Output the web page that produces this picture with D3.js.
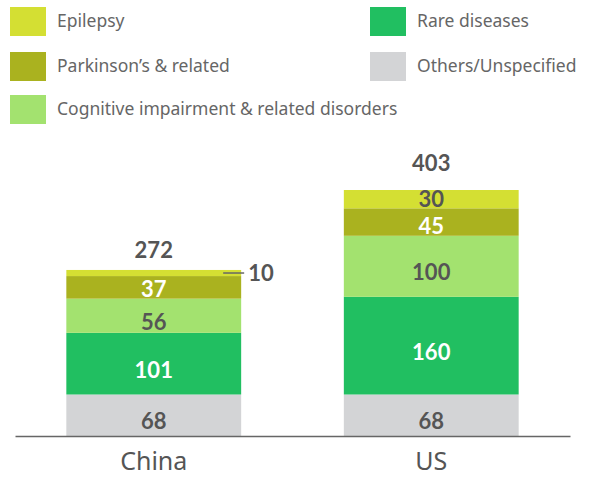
<!DOCTYPE html>
<html>
<head>
<meta charset="utf-8">
<script src="https://cdn.jsdelivr.net/npm/d3@7/dist/d3.min.js"></script>
<style>
  body { margin: 0; background: #fff; }
  svg { display: block; }
</style>
</head>
<body>
<svg id="chart" width="593" height="479"></svg>
<script>
// Categories (bars) and stacked series, bottom to top
const countries = ["China", "US"];
const seriesNames = ["Others/Unspecified", "Rare diseases", "Cognitive impairment & related disorders", "Parkinson’s & related", "Epilepsy"];
const othersValues = [68, 68];
const rareValues = [101, 160];
const cognitiveValues = [56, 100];
const parkinsonsValues = [37, 45];
const epilepsyValues = [10, 30];
const totals = [272, 403];

const colors = {
  "Others/Unspecified": "#d3d4d6",
  "Rare diseases": "#21bf61",
  "Cognitive impairment & related disorders": "#a3e26f",
  "Parkinson’s & related": "#aab21f",
  "Epilepsy": "#d4df33"
};
const labelColors = {
  "Others/Unspecified": "#555",
  "Rare diseases": "#fff",
  "Cognitive impairment & related disorders": "#555",
  "Parkinson’s & related": "#fff",
  "Epilepsy": "#555"
};

const valuesBySeries = [othersValues, rareValues, cognitiveValues, parkinsonsValues, epilepsyValues];
const rows = countries.map((c, i) => {
  const r = { country: c };
  seriesNames.forEach((s, j) => r[s] = valuesBySeries[j][i]);
  return r;
});

const svg = d3.select("#chart");
const numFont = "Lato, 'Noto Sans', sans-serif";
const textFont = "'Noto Sans', 'Open Sans', sans-serif";

const baseY = 436;
const x = d3.scaleBand().domain(countries).range([15, 570]).paddingInner(0.37).paddingOuter(0.185);
const y = d3.scaleLinear().domain([0, 403]).range([baseY, 190]);

const stack = d3.stack().keys(seriesNames);
const layers = stack(rows);

const g = svg.append("g");
layers.forEach(layer => {
  const key = layer.key;
  layer.forEach((d, i) => {
    g.append("rect")
      .attr("x", x(countries[i]))
      .attr("y", y(d[1]))
      .attr("width", x.bandwidth())
      .attr("height", y(d[0]) - y(d[1]))
      .attr("fill", colors[key]);
  });
});

// Segment value labels, nudged slightly below the middle in taller segments
layers.forEach(layer => {
  const key = layer.key;
  layer.forEach((d, i) => {
    const v = d[1] - d[0];
    const cx = x(countries[i]) + x.bandwidth() / 2;
    const top = y(d[1]), bottom = y(d[0]);
    const h = bottom - top;
    if (key === "Epilepsy" && countries[i] === "China") {
      const yy = (top + bottom) / 2;
      const right = x(countries[i]) + x.bandwidth();
      svg.append("line")
        .attr("x1", right - 18).attr("x2", right + 3)
        .attr("y1", yy).attr("y2", yy)
        .attr("stroke", "#666").attr("stroke-width", 1.5);
      svg.append("text")
        .attr("x", right + 7).attr("y", yy)
        .attr("dy", "0.36em")
        .attr("font-family", numFont).attr("font-weight", 700)
        .attr("font-size", 22).attr("fill", "#555")
        .text(v);
      return;
    }
    const nudge = Math.max(0, Math.min(6, (h - 20) / 2));
    svg.append("text")
      .attr("x", cx).attr("y", (top + bottom) / 2 + nudge)
      .attr("dy", "0.36em")
      .attr("text-anchor", "middle")
      .attr("font-family", numFont).attr("font-weight", 700)
      .attr("font-size", 22).attr("fill", labelColors[key])
      .text(v);
  });
});

// Totals
const totalGap = [20, 27];
countries.forEach((c, i) => {
  svg.append("text")
    .attr("x", x(c) + x.bandwidth() / 2)
    .attr("y", y(totals[i]) - totalGap[i])
    .attr("dy", "0.36em")
    .attr("text-anchor", "middle")
    .attr("font-family", numFont).attr("font-weight", 700)
    .attr("font-size", 22).attr("fill", "#555")
    .text(totals[i]);
});

// Baseline axis
const axis = svg.append("g").attr("transform", `translate(0,${baseY})`)
  .call(d3.axisBottom(x).tickSize(0).tickPadding(16));
axis.select(".domain").attr("stroke", "#666").attr("stroke-width", 1.5);
axis.selectAll("text")
  .attr("font-family", textFont).attr("font-size", 25).attr("fill", "#555");

// Legend
const legendItems = [
  { name: "Epilepsy", x: 10, y: 21 },
  { name: "Parkinson’s & related", x: 10, y: 66 },
  { name: "Cognitive impairment & related disorders", x: 10, y: 109 },
  { name: "Rare diseases", x: 370, y: 21 },
  { name: "Others/Unspecified", x: 370, y: 66 }
];
const legend = svg.append("g");
legendItems.forEach(it => {
  legend.append("rect")
    .attr("x", it.x).attr("y", it.y - 14)
    .attr("width", 36).attr("height", 29)
    .attr("fill", colors[it.name]);
  legend.append("text")
    .attr("x", it.x + 47).attr("y", it.y)
    .attr("dy", "0.35em")
    .attr("font-family", textFont).attr("font-size", 17.5).attr("fill", "#666")
    .text(it.name);
});
</script>
</body>
</html>
